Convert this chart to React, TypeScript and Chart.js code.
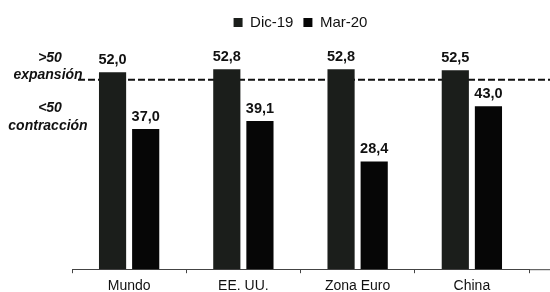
import React, { useEffect, useRef } from "react";
import { Chart, registerables } from "chart.js";

Chart.register(...registerables);

const categories = ["Mundo", "EE. UU.", "Zona Euro", "China"];
const dic19 = [52.0, 52.8, 52.8, 52.5];
const mar20 = [37.0, 39.1, 28.4, 43.0];
const seriesLabels = ["Dic-19", "Mar-20"];
const threshold = 50;
const upperNote = [">50", "expansión"];
const lowerNote = ["<50", "contracción"];

const fmt = (v: number) => v.toFixed(1).replace(".", ",");
const FAMILY = "'Liberation Sans', Arial, sans-serif";

const overlay = {
  id: "overlay",
  beforeDatasetsDraw(chart: any) {
    const { ctx, chartArea, scales } = chart;
    const y = scales.y.getPixelForValue(threshold);
    ctx.save();
    ctx.strokeStyle = "#111";
    ctx.lineWidth = 2;
    ctx.setLineDash([7, 3]);
    ctx.beginPath();
    ctx.moveTo(chartArea.left + 6, y);
    ctx.lineTo(chart.width, y);
    ctx.stroke();
    ctx.restore();
  },
  afterDatasetsDraw(chart: any) {
    const { ctx } = chart;
    ctx.save();
    ctx.font = "bold 14.5px " + FAMILY;
    ctx.fillStyle = "#111";
    ctx.textAlign = "center";
    ctx.textBaseline = "bottom";
    chart.data.datasets.forEach((ds: any, di: number) => {
      const meta = chart.getDatasetMeta(di);
      meta.data.forEach((bar: any, i: number) => {
        ctx.fillText(fmt(ds.data[i]), bar.x, bar.y - 5);
      });
    });
    ctx.restore();
  },
  afterDraw(chart: any) {
    const { ctx, chartArea, scales } = chart;
    ctx.save();
    ctx.strokeStyle = "#444";
    ctx.lineWidth = 1;
    ctx.beginPath();
    ctx.moveTo(chartArea.right, chartArea.bottom + 0.5);
    ctx.lineTo(chart.width, chartArea.bottom + 0.5);
    ctx.stroke();
    const yT = scales.y.getPixelForValue(threshold);
    ctx.fillStyle = "#111";
    ctx.textAlign = "center";
    ctx.textBaseline = "middle";
    ctx.font = "italic bold 14px " + FAMILY;
    const cx = 48;
    ctx.fillText(upperNote[0], cx + 2, yT - 22);
    ctx.fillText(upperNote[1], cx, yT - 5);
    ctx.fillText(lowerNote[0], cx + 2, yT + 28);
    ctx.fillText(lowerNote[1], cx, yT + 46);
    ctx.restore();
  },
};

export default function App() {
  const ref = useRef<HTMLCanvasElement>(null);
  useEffect(() => {
    const chart = new Chart(ref.current!, {
      type: "bar",
      data: {
        labels: categories,
        datasets: [
          {
            label: seriesLabels[0],
            data: dic19,
            backgroundColor: "#1b1e1b",
            categoryPercentage: 0.58,
            barPercentage: 0.82,
          },
          {
            label: seriesLabels[1],
            data: mar20,
            backgroundColor: "#060606",
            categoryPercentage: 0.58,
            barPercentage: 0.82,
          },
        ],
      },
      options: {
        animation: false,
        responsive: false,
        layout: { padding: { left: 72, right: 21, top: 5, bottom: 0 } },
        plugins: {
          legend: {
            display: true,
            position: "top",
            labels: {
              boxWidth: 9,
              boxHeight: 9,
              color: "#111",
              padding: 10,
              font: { size: 15, family: FAMILY },
            },
          },
          tooltip: { enabled: false },
        },
        scales: {
          x: {
            offset: true,
            grid: {
              display: true,
              drawOnChartArea: false,
              drawTicks: true,
              tickLength: 4,
              color: "#444",
              offset: true,
            },
            border: { display: true, color: "#444" },
            ticks: {
              color: "#111",
              padding: 5,
              font: { size: 14, family: FAMILY },
            },
          },
          y: {
            display: false,
            min: 0,
            max: 60.5,
          },
        },
      },
      plugins: [overlay],
    });
    return () => chart.destroy();
  }, []);
  return (
    <div style={{ position: "fixed", left: 0, top: 0, width: 550, height: 292, overflow: "hidden", background: "#fff" }}>
      <canvas ref={ref} width={550} height={300} style={{ display: "block" }} />
    </div>
  );
}
